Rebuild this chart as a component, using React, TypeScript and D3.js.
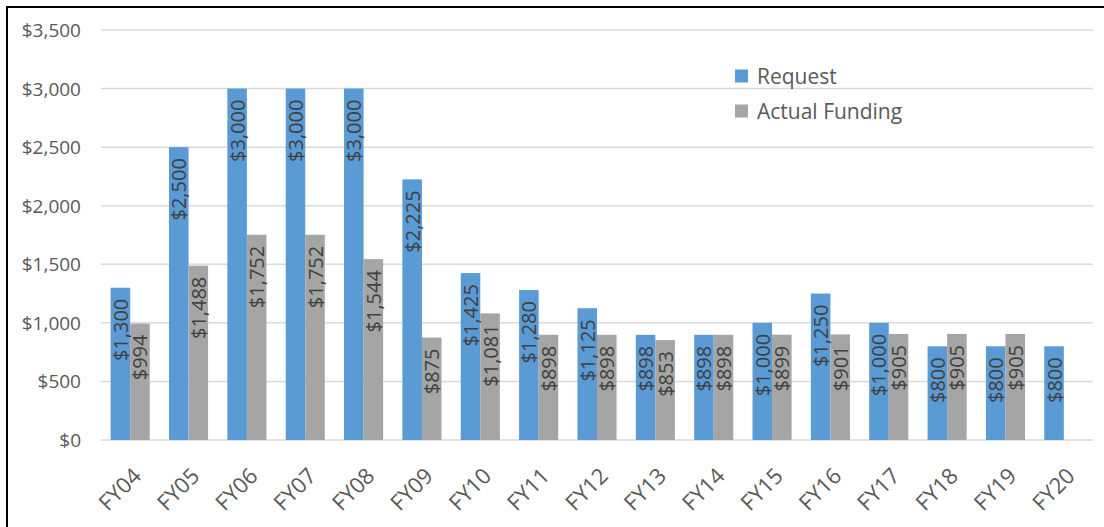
import React from 'react';
import * as d3 from 'd3';

const years = ['FY04', 'FY05', 'FY06', 'FY07', 'FY08', 'FY09', 'FY10', 'FY11', 'FY12', 'FY13', 'FY14', 'FY15', 'FY16', 'FY17', 'FY18', 'FY19', 'FY20'];
const request = [1300, 2500, 3000, 3000, 3000, 2225, 1425, 1280, 1125, 898, 898, 1000, 1250, 1000, 800, 800, 800];
const funding: (number | null)[] = [994, 1488, 1752, 1752, 1544, 875, 1081, 898, 898, 853, 898, 899, 901, 905, 905, 905, null];
const yTicks = [0, 500, 1000, 1500, 2000, 2500, 3000, 3500];
const seriesNames = ['Request', 'Actual Funding'];

const W = 1104;
const H = 527;
const FONT = '"Open Sans", "Noto Sans", sans-serif';
const colors = ['#5B9BD5', '#A5A5A5'];

const fmt = (v: number) => '$' + d3.format(',')(v);

export default function App() {
  const x = d3.scaleBand<string>().domain(years).range([101, 1093]).paddingInner(0.33).paddingOuter(0.165);
  const sub = d3.scaleBand<number>().domain([0, 1]).range([0, x.bandwidth()]);
  const y = d3.scaleLinear().domain([0, 3500]).range([440, 30]);

  const series = [request, funding];

  return (
    <>
      <style>{`body{margin:0}`}</style>
      <svg width={W} height={H} style={{ display: 'block', fontFamily: FONT }}>
        <rect x={0} y={0} width={W} height={H} fill="#fff" />
        <rect x={7} y={7} width={W + 20} height={H + 20} fill="none" stroke="#000" strokeWidth={2} />

        {/* grid + y labels */}
        {yTicks.map(t => (
          <g key={t}>
            <line x1={101} x2={1093} y1={y(t)} y2={y(t)} stroke="#D9D9D9" strokeWidth={1.5} />
            <text x={81} y={y(t)} textAnchor="end" dominantBaseline="central" fontSize={19} fill="#595959">
              {fmt(t)}
            </text>
          </g>
        ))}

        {/* bars */}
        {series.map((vals, si) =>
          vals.map((v, i) => {
            if (v == null) return null;
            const bx = (x(years[i]) ?? 0) + (sub(si) ?? 0);
            const bw = sub.bandwidth();
            return (
              <rect key={`${si}-${i}`} x={bx} y={y(v)} width={bw} height={y(0) - y(v)} fill={colors[si]} />
            );
          })
        )}

        {/* data labels */}
        {series.map((vals, si) =>
          vals.map((v, i) => {
            if (v == null) return null;
            const cx = (x(years[i]) ?? 0) + (sub(si) ?? 0) + sub.bandwidth() / 2;
            const ty = y(v) + 11;
            return (
              <text
                key={`l-${si}-${i}`}
                transform={`translate(${cx},${ty}) rotate(-90)`}
                textAnchor="end"
                dominantBaseline="central"
                fontSize={20}
                fill="#404040"
              >
                {fmt(v)}
              </text>
            );
          })
        )}

        {/* x labels */}
        {years.map(yr => {
          const cx = (x(yr) ?? 0) + x.bandwidth() / 2;
          return (
            <text
              key={yr}
              transform={`translate(${cx + 6},${471}) rotate(-45)`}
              textAnchor="end"
              dominantBaseline="central"
              fontSize={22}
              fill="#595959"
            >
              {yr}
            </text>
          );
        })}

        {/* legend */}
        {seriesNames.map((n, i) => (
          <g key={n} transform={`translate(735,${76 + i * 35})`}>
            <rect x={0} y={-6.5} width={13} height={13} fill={colors[i]} />
            <text x={22} y={0} dominantBaseline="central" fontSize={21} fill="#595959">
              {n}
            </text>
          </g>
        ))}
      </svg>
    </>
  );
}
